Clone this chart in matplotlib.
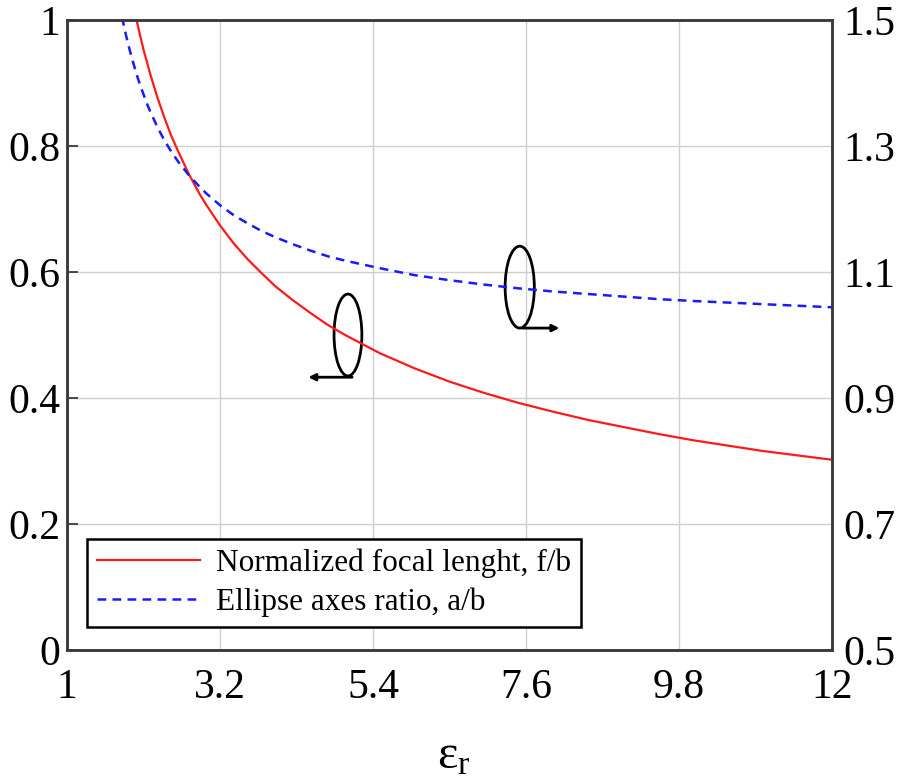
import matplotlib
matplotlib.use("Agg")
import matplotlib.pyplot as plt
from matplotlib.patches import Ellipse

plt.rcParams['font.family'] = ['Liberation Serif', 'DejaVu Serif']
plt.rcParams['mathtext.fontset'] = 'custom'
plt.rcParams['mathtext.rm'] = 'Liberation Serif'
plt.rcParams['mathtext.it'] = 'Liberation Serif:italic'

# Values
eps_r = [1.75, 1.8, 1.85, 1.9, 1.95, 2.0, 2.05, 2.1, 2.15, 2.2, 2.3, 2.4, 2.5, 2.6,
         2.75, 2.9, 3.0, 3.2, 3.4, 3.6, 3.8, 4.0, 4.25, 4.5, 4.75, 5.0, 5.5, 6.0,
         6.5, 7.0, 7.5, 8.0, 8.5, 9.0, 9.5, 10.0, 11.0, 12.0]
focal_fb = [1.155, 1.118, 1.085, 1.054, 1.026, 1.000, 0.976, 0.953, 0.933, 0.913,
            0.877, 0.845, 0.816, 0.791, 0.756, 0.725, 0.707, 0.674, 0.645, 0.620,
            0.598, 0.577, 0.555, 0.535, 0.516, 0.500, 0.471, 0.447, 0.426, 0.408,
            0.392, 0.378, 0.365, 0.354, 0.343, 0.333, 0.316, 0.302]
axes_ab = [1.528, 1.500, 1.475, 1.453, 1.433, 1.414, 1.397, 1.382, 1.367, 1.354,
           1.330, 1.309, 1.291, 1.275, 1.254, 1.236, 1.225, 1.206, 1.190, 1.177,
           1.165, 1.155, 1.144, 1.134, 1.125, 1.118, 1.106, 1.095, 1.087, 1.080,
           1.074, 1.069, 1.065, 1.061, 1.057, 1.054, 1.049, 1.044]

x_ticks = [1, 3.2, 5.4, 7.6, 9.8, 12]
x_ticklabels = ['1', '3.2', '5.4', '7.6', '9.8', '12']
yl_ticks = [0, 0.2, 0.4, 0.6, 0.8, 1]
yl_ticklabels = ['0', '0.2', '0.4', '0.6', '0.8', '1']
yr_ticks = [0.5, 0.7, 0.9, 1.1, 1.3, 1.5]
yr_ticklabels = ['0.5', '0.7', '0.9', '1.1', '1.3', '1.5']

fig = plt.figure(figsize=(8.97, 7.78), dpi=100)
ax = fig.add_axes([0.0747, 0.1645, 0.8528, 0.8098])
ax2 = ax.twinx()

ax.set_xlim(1, 12)
ax.set_ylim(0, 1)
ax2.set_ylim(0.5, 1.5)

ax.set_xticks(x_ticks)
ax.set_xticklabels(x_ticklabels)
ax.set_yticks(yl_ticks)
ax.set_yticklabels(yl_ticklabels)
ax2.set_yticks(yr_ticks)
ax2.set_yticklabels(yr_ticklabels)

ax.grid(True, color='#cfcfcf', linewidth=1.0)
ax.set_axisbelow(True)

l1, = ax.plot(eps_r, focal_fb, color='#ff1a1a', linewidth=1.6,
              label='Normalized focal lenght, f/b')
l2, = ax2.plot(eps_r, axes_ab, color='#1a1aff', linewidth=1.8,
               linestyle=(0, (3.5, 2.5)), label='Ellipse axes ratio, a/b')

for a in (ax, ax2):
    for s in a.spines.values():
        s.set_color('#3a3a3a')
        s.set_linewidth(1.8)
ax.tick_params(axis='y', direction='in', length=8, width=1.3, labelsize=30, pad=5,
               colors='#3a3a3a', labelcolor='black')
ax.tick_params(axis='x', direction='in', length=0, labelsize=30, pad=13)
ax2.tick_params(axis='y', direction='in', length=0, labelsize=30, pad=8)

fig.text(454 / 897, 1 - 768 / 778, r'$\mathrm{ε_r}$', fontsize=35,
         ha='center', va='baseline')

# annotation ellipses with arrows
e1 = Ellipse((5.04, 0.50), 0.40, 0.13, fill=False, edgecolor='black', linewidth=2)
ax.add_patch(e1)
ax.annotate('', xy=(4.47, 0.433), xytext=(5.10, 0.433),
            arrowprops=dict(arrowstyle='-|>', color='black', lw=2, mutation_scale=10,
                            shrinkA=0, shrinkB=0))
e2 = Ellipse((7.51, 0.576), 0.42, 0.13, fill=False, edgecolor='black', linewidth=2)
ax.add_patch(e2)
ax.annotate('', xy=(8.08, 0.511), xytext=(7.55, 0.511),
            arrowprops=dict(arrowstyle='-|>', color='black', lw=2, mutation_scale=10,
                            shrinkA=0, shrinkB=0))

leg = ax.legend(handles=[l1, l2], loc='lower left', bbox_to_anchor=(0.026, 0.0365),
                borderaxespad=0, fontsize=22.5, fancybox=False, framealpha=1,
                edgecolor='black', handlelength=3.3, labelspacing=0.3,
                borderpad=0.32, handletextpad=0.5)
leg.get_frame().set_linewidth(1.8)
leg.set_zorder(5)

fig.savefig('out.png', dpi=100)
